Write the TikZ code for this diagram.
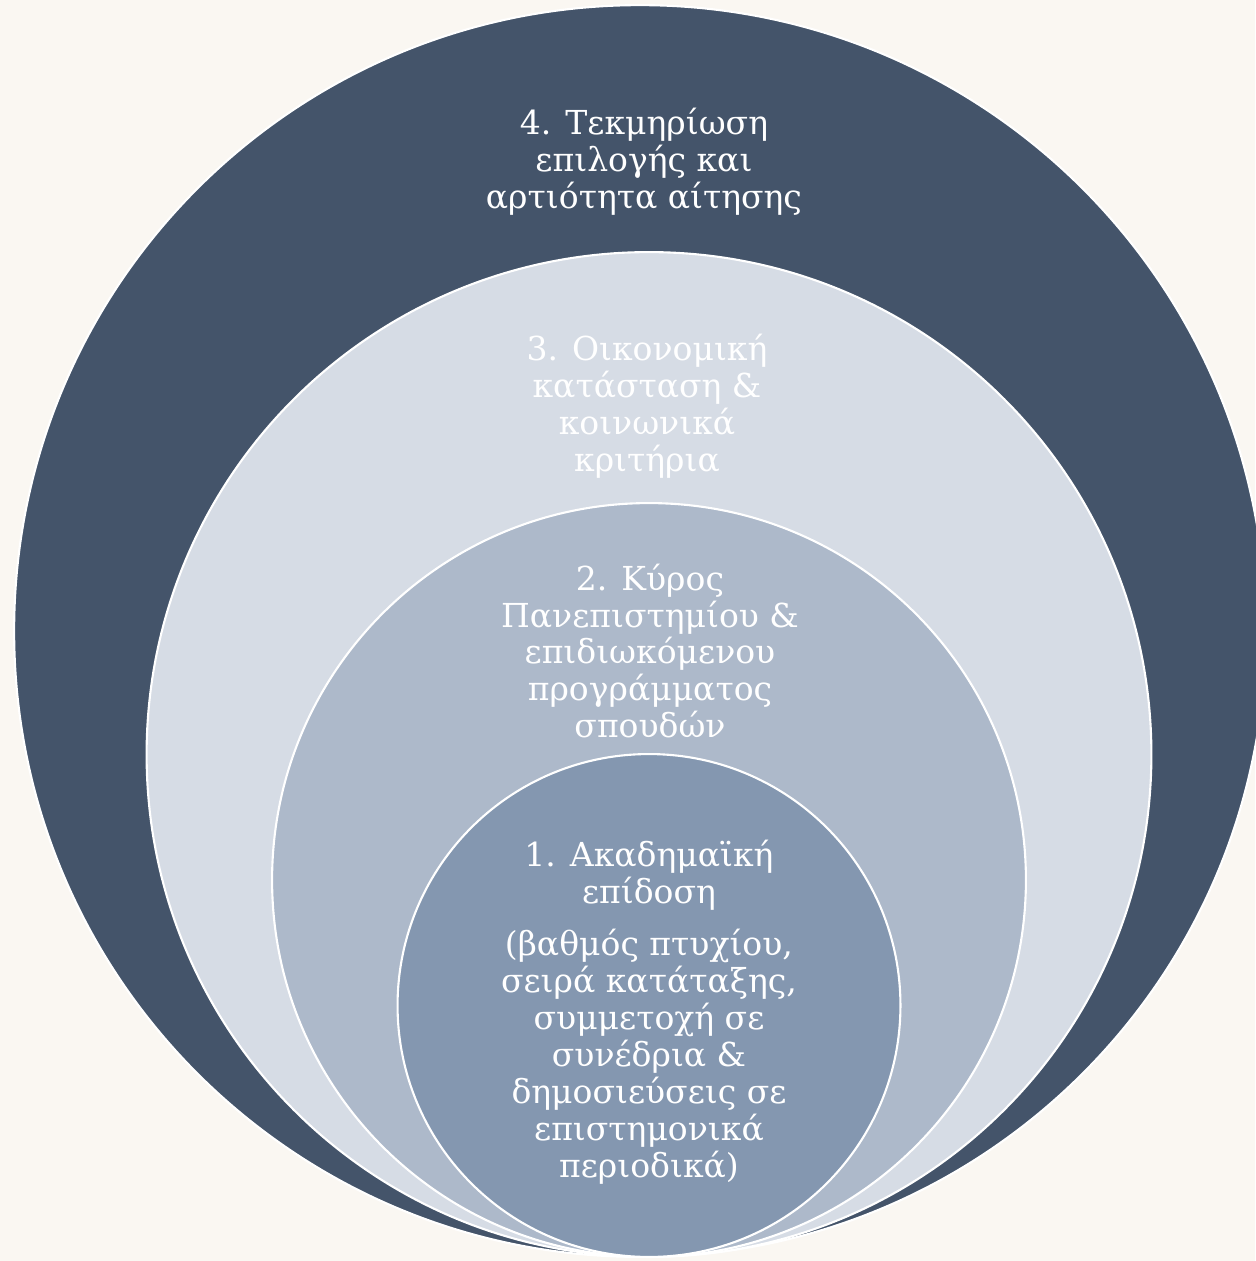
\documentclass[tikz,border=0pt]{standalone}
\usepackage{fontspec}
\setmainfont{DejaVu Serif}
\definecolor{bgcream}{HTML}{FAF7F2}
\definecolor{ring4}{HTML}{44546A}
\definecolor{ring3}{HTML}{D6DCE5}
\definecolor{ring2}{HTML}{ADB9CA}
\definecolor{ring1}{HTML}{8497B0}
\tikzset{
  ring/.style={circle, draw=white, line width=1.2pt, inner sep=0pt, outer sep=0pt},
  label/.style={text=white, align=center, inner sep=0pt, font=\fontsize{18.8pt}{21pt}\selectfont}
}
\begin{document}
\begin{tikzpicture}[x=0.02cm, y=-0.02cm]
\fill[bgcream] (0,0) rectangle (1255,1261);
\useasboundingbox (0,0) rectangle (1255,1261);
\node[ring, fill=ring4, minimum size=25.04cm] (c4) at (640,631) {};
\node[ring, fill=ring3, minimum size=20.10cm] (c3) at (649,754.5) {};
\node[ring, fill=ring2, minimum size=15.08cm] (c2) at (649,880) {};
\node[ring, fill=ring1, minimum size=10.06cm] (c1) at (649,1005.5) {};
\node[label] (t4) at (644,162) {4. Τεκμηρίωση\\επιλογής και\\αρτιότητα αίτησης};
\node[label] (t3) at (647,406) {3. Οικονομική\\κατάσταση \&\\κοινωνικά\\κριτήρια};
\node[label] (t2) at (650,651) {2. Κύρος\\Πανεπιστημίου \&\\επιδιωκόμενου\\προγράμματος\\σπουδών};
\node[label] (t1) at (649,1012) {1. Ακαδημαϊκή\\επίδοση\\[9pt](βαθμός πτυχίου,\\σειρά κατάταξης,\\συμμετοχή σε\\συνέδρια \&\\δημοσιεύσεις σε\\επιστημονικά\\περιοδικά)};
\end{tikzpicture}
\end{document}
